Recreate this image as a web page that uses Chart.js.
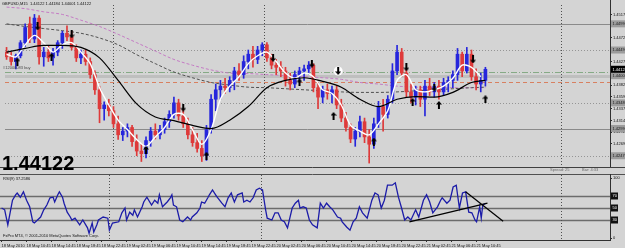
<!DOCTYPE html>
<html>
<head>
<meta charset="utf-8">
<title>GBPUSD,M15</title>
<script src="https://cdn.jsdelivr.net/npm/chart.js@4.4.1/dist/chart.umd.min.js"></script>
<style>
  html, body { margin: 0; padding: 0; background: #d4d4d4; }
  #wrap { position: relative; width: 625px; height: 248px; overflow: hidden; background: #d4d4d4; }
  #priceBox { position: absolute; left: 0; top: 0; width: 625px; height: 173px; }
  #rsiBox { position: absolute; left: 0; top: 173px; width: 625px; height: 75px; }
</style>
</head>
<body>
<div id="wrap">
  <div id="priceBox"><canvas id="priceChart"></canvas></div>
  <div id="rsiBox"><canvas id="rsiChart"></canvas></div>
</div>
<script>
// candles (each one stands for 3 M15 bars)
const candleOpen = [1.4445,1.4436,1.4427,1.4438,1.4463,1.4499,1.4470,1.4510,1.4436,1.4445,
  1.4434,1.4445,1.4463,1.4481,1.4474,1.4454,1.4434,1.4441,1.4427,1.4402,
  1.4373,1.4337,1.4344,1.4333,1.4308,1.4287,1.4294,1.4301,1.4274,1.4256,
  1.4251,1.4276,1.4294,1.4287,1.4297,1.4312,1.4326,1.4348,1.4323,1.4308,
  1.4287,1.4272,1.4261,1.4247,1.4297,1.4355,1.4373,1.4380,1.4377,1.4391,
  1.4409,1.4402,1.4427,1.4441,1.4431,1.4449,1.4459,1.4434,1.4420,1.4416,
  1.4409,1.4391,1.4384,1.4402,1.4409,1.4413,1.4420,1.4377,1.4359,1.4373,
  1.4366,1.4373,1.4344,1.4319,1.4301,1.4279,1.4294,1.4312,1.4283,1.4269,
  1.4308,1.4341,1.4326,1.4355,1.4409,1.4445,1.4405,1.4369,1.4359,1.4373,
  1.4355,1.4380,1.4369,1.4380,1.4369,1.4387,1.4391,1.4402,1.4441,1.4409,
  1.4441,1.4398,1.4384,1.4391];
const candleHigh = [1.4454,1.4445,1.4441,1.4467,1.4499,1.4512,1.4517,1.4515,1.4454,1.4456,
  1.4452,1.4467,1.4485,1.4495,1.4485,1.4459,1.4449,1.4450,1.4434,1.4409,
  1.4380,1.4350,1.4355,1.4341,1.4323,1.4301,1.4308,1.4305,1.4287,1.4269,
  1.4283,1.4301,1.4308,1.4305,1.4319,1.4333,1.4359,1.4355,1.4337,1.4319,
  1.4301,1.4290,1.4276,1.4305,1.4364,1.4384,1.4391,1.4395,1.4398,1.4416,
  1.4423,1.4438,1.4449,1.4456,1.4456,1.4463,1.4463,1.4441,1.4431,1.4427,
  1.4416,1.4405,1.4409,1.4416,1.4420,1.4427,1.4423,1.4387,1.4380,1.4384,
  1.4380,1.4380,1.4355,1.4330,1.4308,1.4301,1.4323,1.4319,1.4297,1.4319,
  1.4351,1.4355,1.4362,1.4423,1.4458,1.4452,1.4413,1.4384,1.4380,1.4380,
  1.4391,1.4395,1.4387,1.4391,1.4395,1.4398,1.4409,1.4452,1.4445,1.4454,
  1.4449,1.4413,1.4405,1.4416];
const candleLow = [1.4431,1.4420,1.4413,1.4434,1.4456,1.4463,1.4463,1.4422,1.4418,1.4427,
  1.4420,1.4438,1.4452,1.4467,1.4449,1.4427,1.4423,1.4420,1.4395,1.4364,
  1.4310,1.4315,1.4323,1.4301,1.4278,1.4276,1.4283,1.4265,1.4247,1.4236,
  1.4243,1.4265,1.4279,1.4279,1.4290,1.4301,1.4319,1.4315,1.4301,1.4279,
  1.4265,1.4254,1.4236,1.4238,1.4290,1.4333,1.4355,1.4366,1.4369,1.4373,
  1.4391,1.4395,1.4413,1.4416,1.4423,1.4438,1.4427,1.4413,1.4402,1.4398,
  1.4380,1.4373,1.4377,1.4387,1.4391,1.4402,1.4369,1.4337,1.4348,1.4355,
  1.4348,1.4337,1.4312,1.4294,1.4272,1.4265,1.4283,1.4272,1.4233,1.4261,
  1.4301,1.4294,1.4319,1.4348,1.4402,1.4398,1.4359,1.4348,1.4344,1.4341,
  1.4323,1.4362,1.4359,1.4355,1.4362,1.4369,1.4377,1.4391,1.4398,1.4405,
  1.4391,1.4373,1.4369,1.4380];
const candleClose = [1.4436,1.4427,1.4438,1.4463,1.4492,1.4470,1.4510,1.4436,1.4445,1.4434,
  1.4445,1.4463,1.4481,1.4474,1.4454,1.4434,1.4441,1.4427,1.4402,1.4373,
  1.4337,1.4344,1.4333,1.4308,1.4287,1.4294,1.4301,1.4274,1.4256,1.4251,
  1.4276,1.4294,1.4287,1.4297,1.4312,1.4326,1.4348,1.4323,1.4308,1.4287,
  1.4272,1.4261,1.4247,1.4297,1.4355,1.4373,1.4380,1.4377,1.4391,1.4409,
  1.4402,1.4427,1.4441,1.4431,1.4449,1.4459,1.4434,1.4420,1.4416,1.4409,
  1.4391,1.4384,1.4402,1.4409,1.4413,1.4420,1.4377,1.4359,1.4373,1.4366,
  1.4373,1.4344,1.4319,1.4301,1.4279,1.4294,1.4312,1.4283,1.4269,1.4308,
  1.4341,1.4326,1.4355,1.4409,1.4445,1.4405,1.4369,1.4359,1.4373,1.4355,
  1.4380,1.4369,1.4380,1.4369,1.4387,1.4391,1.4402,1.4441,1.4409,1.4441,
  1.4398,1.4384,1.4391,1.44122];

// moving averages, read every 12 bars
const maBars = [0,12,24,36,48,60,72,84,96,108,120,132,144,156,168,180,192,204,216,228,240,252,264,276,288,300,309];
const maBlack = [1.4445,1.4452,1.4458,1.4458,1.4454,1.4434,1.4391,1.4346,1.4321,1.4314,1.4305,1.4299,1.4315,1.4341,
  1.4377,1.4391,1.4396,1.4389,1.4378,1.4355,1.4341,1.4355,1.4360,1.4359,1.4368,1.4387,1.4391];
const maGray = [1.4499,1.4494,1.4490,1.4486,1.4481,1.4472,1.4459,1.4440,1.4423,1.4407,1.4396,1.4387,1.4382,1.4378,
  1.4377,1.4375,1.4373,1.4371,1.4369,1.4368,1.4368,1.4369,1.4371,1.4373,1.4375,1.4377,1.4378];
const maPink = [1.4531,1.4528,1.4522,1.4517,1.4506,1.4494,1.4479,1.4463,1.4447,1.4431,1.4420,1.4411,1.4405,1.4404,
  1.4402,1.4400,1.4398,1.4396,1.4393,1.4387,1.4384,1.4380,1.4378,1.4377,1.4377,1.4377,1.4377];
// fast white average, read every 6 bars
const maWhite = [1.4441,1.4436,1.4459,1.4477,1.4463,1.4445,1.4459,1.4463,1.4445,1.4423,
  1.4377,1.4344,1.4315,1.4297,1.4278,1.4265,1.4283,1.4301,1.4326,1.4326,
  1.4297,1.4269,1.4297,1.4355,1.4380,1.4398,1.4423,1.4438,1.4445,1.4427,
  1.4405,1.4395,1.4405,1.4398,1.4373,1.4366,1.4344,1.4305,1.4294,1.4287,
  1.4308,1.4333,1.4391,1.4402,1.4373,1.4369,1.4373,1.4380,1.4395,1.4420,
  1.4416,1.4398];

// fractal arrows
const downArrowBars = [20, 42, 114, 172, 197, 214, 258, 276, 301];
const downArrowPrices = [1.4494, 1.4479, 1.4339, 1.4434, 1.4423, 1.4409, 1.4416, 1.4377, 1.4431];
const upArrowBars = [7, 29, 90, 129, 189, 211, 237, 262, 279, 309];
const upArrowPrices = [1.4427, 1.4436, 1.4258, 1.4247, 1.4387, 1.4323, 1.4274, 1.4350, 1.4344, 1.4355];
const markBars = [214];
const markPrices = [1.4409];

// drawn lines
const hLinePrices = [1.4499, 1.4449, 1.4407, 1.4400, 1.4387, 1.4348, 1.4299, 1.4247];
const vLineBars = [69, 166, 358];
const priceTicks = [1.4517, 1.44945, 1.4472, 1.44495, 1.4427, 1.44045, 1.4382, 1.43595, 1.4337, 1.43145, 1.4292, 1.42695, 1.4247];

// RSI(9)
const rsiBars = [0,2,4,7,9,10,12,14,16,18,20,21,25,27,29,31,33,34,36,37,39,40,42,44,45,47,50,52,55,56,58,59,61,62,65,68,69,71,75,77,
  79,80,82,84,85,87,90,91,93,96,98,100,101,103,106,108,109,110,112,114,116,119,121,122,125,127,128,130,132,133,
  135,137,138,141,143,145,147,148,149,151,154,155,157,159,161,163,165,167,169,170,173,175,177,179,181,183,186,188,190,191,
  193,195,197,199,202,204,206,208,210,212,215,217,218,221,223,225,227,229,231,234,237,239,241,243,245,247,250,252,254,256,
  258,260,262,265,267,270,272,274,276,279,281,282,285,287,289,291,293,295,297,299,301,303,304,306,307,308,310];
const rsiValues = [50,47,22,63,72,75,68,77,63,52,27,25,35,47,55,67,68,60,72,77,68,58,43,35,30,33,22,30,17,8,25,10,22,30,35,33,13,25,27,42,
  50,30,43,38,47,35,52,60,68,55,63,58,72,52,60,67,72,55,52,30,27,35,30,35,42,50,60,58,67,72,
  80,72,68,58,52,67,75,67,60,72,75,60,63,60,67,80,83,80,47,33,30,42,42,30,27,17,50,58,63,50,
  52,50,30,22,17,58,50,58,52,47,35,33,27,18,13,27,33,52,42,33,63,75,72,50,63,88,88,92,68,50,
  30,35,30,47,35,63,72,60,42,52,63,67,58,63,85,88,50,75,77,43,42,30,27,52,33,55,58];
const trendUpBars = [261, 311];
const trendUpValues = [27, 58];
const trendDownBars = [297, 321];
const trendDownValues = [77, 28];
const rsiLevels = [70, 50, 30];
const rsiTicks = [0, 100];

const timeBars = [0,16,32,48,64,80,96,112,128,144,160,176,192,208,224,240,256,272,288,304];
const timeLabels = ["18 May 2010","18 May 10:45","18 May 14:45","18 May 18:45","18 May 22:45","19 May 02:45","19 May 06:45",
  "19 May 10:45","19 May 14:45","19 May 18:45","19 May 22:45","20 May 02:45","20 May 06:45","20 May 10:45","20 May 14:45",
  "20 May 18:45","20 May 22:45","21 May 02:45","21 May 06:45","21 May 10:45"];

const headerText = "GBPUSD,M15  1.44122 1.44184 1.44001 1.44122";
const orderText = "#12000083 buy";
const spreadText = "Spread: 25";
const barText = "Bar: 4:33";
const rsiText = "RSI(9) 37.2586";
const copyText = "FxPro MT4, \u00a9 2001-2010 MetaQuotes Software Corp.";

document.addEventListener("DOMContentLoaded", function () {
    const family = '"Liberation Sans", Arial, sans-serif';
    const barsPerCandle = 3;
    const xMin = -1, xMax = 389.4;
    const priceMax = 1.4535, priceMin = 1.42236;

    const hLineStyles = [
        { color: '#8a8a8a', width: 1, dash: [], box: true },
        { color: '#959595', width: 1, dash: [1, 2], box: true },
        { color: '#86aa86', width: 1, dash: [6, 2, 1, 2], box: false },
        { color: '#bfbfbf', width: 3, dash: [], box: true },
        { color: '#d88060', width: 1, dash: [4, 3], box: false },
        { color: '#959595', width: 1, dash: [1, 2], box: true },
        { color: '#8a8a8a', width: 1, dash: [], box: true },
        { color: '#959595', width: 1, dash: [1, 2], box: true }
    ];

    const pts = (xs, ys) => ys.map((v, k) => ({ x: xs[k], y: v }));

    function arrowImage(up) {
        const c = document.createElement('canvas');
        c.width = 6; c.height = 8;
        const g = c.getContext('2d');
        g.fillStyle = '#000';
        const shape = up
            ? [[3, 0], [6, 3.5], [4, 3.5], [4, 8], [2, 8], [2, 3.5], [0, 3.5]]
            : [[3, 8], [6, 4.5], [4, 4.5], [4, 0], [2, 0], [2, 4.5], [0, 4.5]];
        g.beginPath();
        shape.forEach(([px, py], k) => k ? g.lineTo(px, py) : g.moveTo(px, py));
        g.closePath();
        g.fill();
        return c;
    }

    function hLine(ctx, x0, x1, y, color, width, dash) {
        ctx.save();
        ctx.strokeStyle = color; ctx.lineWidth = width; ctx.setLineDash(dash);
        ctx.beginPath(); ctx.moveTo(x0, y); ctx.lineTo(x1, y); ctx.stroke();
        ctx.restore();
    }

    function vLine(ctx, x, y0, y1, color, width, dash) {
        ctx.save();
        ctx.strokeStyle = color; ctx.lineWidth = width; ctx.setLineDash(dash);
        ctx.beginPath(); ctx.moveTo(x, y0); ctx.lineTo(x, y1); ctx.stroke();
        ctx.restore();
    }

    function axisBox(ctx, x, y, w, text, fill, textColor) {
        ctx.save();
        ctx.fillStyle = fill;
        ctx.fillRect(x, y - 3.5, w, 7);
        ctx.fillStyle = textColor;
        ctx.font = '4px ' + family;
        ctx.textBaseline = 'middle';
        ctx.fillText(text, x + 1.5, y + 0.3);
        ctx.restore();
    }

    // lines, labels and frame of the price window
    const priceDecor = {
        id: 'priceDecor',
        beforeDatasetsDraw(chart) {
            const { ctx, chartArea: a, scales: { x, y } } = chart;
            hLinePrices.forEach((p, k) => {
                const s = hLineStyles[k];
                hLine(ctx, a.left, a.right, Math.round(y.getPixelForValue(p)) + 0.5, s.color, s.width, s.dash);
            });
            vLineBars.forEach(b => vLine(ctx, Math.round(x.getPixelForValue(b)) + 0.5, a.top, a.bottom, '#505050', 1, [1, 2]));
        },
        afterDraw(chart) {
            const { ctx, chartArea: a, scales: { y } } = chart;
            vLine(ctx, a.right + 0.5, 0, a.bottom, '#303030', 1, []);
            hLine(ctx, 0, 625, a.bottom - 0.5, '#404040', 1, []);

            hLinePrices.forEach((p, k) => {
                if (hLineStyles[k].box) axisBox(ctx, a.right + 1, y.getPixelForValue(p), 14, p.toFixed(5), '#9c9c9c', '#1a1a1a');
            });
            const last = candleClose[candleClose.length - 1];
            axisBox(ctx, a.right + 1, y.getPixelForValue(last), 14, last.toFixed(5), '#000', '#fff');

            ctx.save();
            ctx.textBaseline = 'middle';
            ctx.font = '4px ' + family;
            ctx.fillStyle = '#101010';
            ctx.fillText(headerText, 2, 4);
            ctx.fillStyle = '#4a4a4a';
            ctx.fillText(orderText, 3, 68);
            ctx.fillStyle = '#6a6a6a';
            ctx.fillText(spreadText, 550, 170);
            ctx.fillText(barText, 582, 170);
            ctx.font = 'bold 20px ' + family;
            ctx.fillStyle = '#000';
            ctx.textBaseline = 'alphabetic';
            ctx.fillText(last.toFixed(5), 2, 170);
            ctx.restore();
        }
    };

    // levels, labels and frame of the RSI window
    const rsiDecor = {
        id: 'rsiDecor',
        beforeDatasetsDraw(chart) {
            const { ctx, chartArea: a, scales: { x, y } } = chart;
            rsiLevels.forEach(v => hLine(ctx, a.left, a.right, Math.round(y.getPixelForValue(v)) + 0.5, '#6c6c6c', 1.3, []));
            vLineBars.forEach(b => vLine(ctx, Math.round(x.getPixelForValue(b)) + 0.5, a.top, a.bottom, '#505050', 1, [1, 2]));
        },
        afterDraw(chart) {
            const { ctx, chartArea: a, scales: { y } } = chart;
            hLine(ctx, 0, 625, 1.5, '#505050', 1, []);
            hLine(ctx, 0, a.right + 1, a.bottom + 0.5, '#303030', 1, []);
            vLine(ctx, a.right + 0.5, 1, a.bottom + 1, '#303030', 1, []);
            rsiLevels.forEach(v => axisBox(ctx, a.right + 1, y.getPixelForValue(v), 7, String(v), '#111', '#fff'));

            ctx.save();
            ctx.textBaseline = 'middle';
            ctx.font = '4px ' + family;
            ctx.fillStyle = '#101010';
            ctx.fillText(rsiText, 3, 6);
            ctx.fillText(copyText, 3, 63);
            ctx.restore();
        }
    };

    const candleX = candleOpen.map((v, i) => i * barsPerCandle);
    const candleColors = candleClose.map((c, i) => c >= candleOpen[i] ? '#2626dc' : '#de3a3a');
    const whiteBars = maWhite.map((v, k) => k * 2 * barsPerCandle);

    const noPad = s => { s.paddingTop = 0; s.paddingBottom = 0; s.paddingLeft = 0; s.paddingRight = 0; };

    new Chart(document.getElementById('priceChart'), {
        type: 'bar',
        data: {
            datasets: [
                { type: 'line', data: pts(downArrowBars, downArrowPrices), showLine: false, pointStyle: arrowImage(false), order: 0 },
                { type: 'line', data: pts(upArrowBars, upArrowPrices), showLine: false, pointStyle: arrowImage(true), order: 0 },
                { type: 'line', data: pts(markBars, markPrices), showLine: false, pointStyle: 'circle', pointRadius: 4.5,
                  pointBackgroundColor: '#ffffff', pointBorderWidth: 0, order: 1 },
                { type: 'line', data: pts(maBars, maBlack), borderColor: '#000000', borderWidth: 1.2, pointRadius: 0,
                  cubicInterpolationMode: 'monotone', order: 2 },
                { type: 'line', data: pts(whiteBars, maWhite), borderColor: '#ffffff', borderWidth: 1.4, pointRadius: 0,
                  tension: 0.3, order: 3 },
                { type: 'bar', data: candleClose.map((c, i) => ({ x: candleX[i], y: [candleOpen[i], c] })),
                  backgroundColor: candleColors, barThickness: 3, grouped: false, borderWidth: 0, order: 4 },
                { type: 'bar', data: candleHigh.map((h, i) => ({ x: candleX[i], y: [candleLow[i], h] })),
                  backgroundColor: candleColors, barThickness: 1, grouped: false, borderWidth: 0, order: 5 },
                { type: 'line', data: pts(maBars, maGray), borderColor: '#505050', borderWidth: 1, borderDash: [3, 2],
                  pointRadius: 0, cubicInterpolationMode: 'monotone', order: 6 },
                { type: 'line', data: pts(maBars, maPink), borderColor: '#c47ac4', borderWidth: 1, borderDash: [3, 2],
                  pointRadius: 0, cubicInterpolationMode: 'monotone', order: 7 }
            ]
        },
        options: {
            animation: false,
            responsive: true,
            maintainAspectRatio: false,
            devicePixelRatio: 1,
            layout: { padding: 0 },
            plugins: { legend: { display: false }, tooltip: { enabled: false } },
            scales: {
                x: { type: 'linear', min: xMin, max: xMax, offset: false, display: false },
                y: {
                    position: 'right', min: priceMin, max: priceMax, beginAtZero: false,
                    afterBuildTicks: s => { s.ticks = priceTicks.map(v => ({ value: v })); },
                    afterFit: s => { s.width = 15; noPad(s); },
                    grid: { display: true, drawOnChartArea: false, drawTicks: true, tickLength: 2, color: '#303030' },
                    border: { display: false },
                    ticks: { font: { size: 4, family: family }, color: '#101010', padding: 1,
                             callback: v => Number(v).toFixed(5) }
                }
            }
        },
        plugins: [priceDecor]
    });

    new Chart(document.getElementById('rsiChart'), {
        type: 'line',
        data: {
            datasets: [
                { data: pts(trendUpBars, trendUpValues), borderColor: '#000000', borderWidth: 1.2, pointRadius: 0 },
                { data: pts(trendDownBars, trendDownValues), borderColor: '#000000', borderWidth: 1.2, pointRadius: 0 },
                { data: pts(rsiBars, rsiValues), borderColor: '#1c1ca8', borderWidth: 1.3, pointRadius: 0, tension: 0 }
            ]
        },
        options: {
            animation: false,
            responsive: true,
            maintainAspectRatio: false,
            devicePixelRatio: 1,
            layout: { padding: { top: 2, left: 0, right: 0, bottom: 0 } },
            plugins: { legend: { display: false }, tooltip: { enabled: false } },
            scales: {
                x: {
                    type: 'linear', min: xMin, max: xMax, offset: false,
                    afterBuildTicks: s => { s.ticks = timeBars.map(v => ({ value: v })); },
                    afterFit: s => { s.height = 8; noPad(s); },
                    grid: { drawOnChartArea: false, drawTicks: true, tickLength: 2, color: '#303030' },
                    border: { display: false },
                    ticks: { autoSkip: false, maxRotation: 0, minRotation: 0, align: 'start', padding: 1,
                             font: { size: 4, family: family }, color: '#101010',
                             callback: (v, i) => timeLabels[i] }
                },
                y: {
                    position: 'right', min: -3.33, max: 105,
                    afterBuildTicks: s => { s.ticks = rsiTicks.map(v => ({ value: v })); },
                    afterFit: s => { s.width = 15; noPad(s); },
                    grid: { display: true, drawOnChartArea: false, drawTicks: true, tickLength: 2, color: '#303030' },
                    border: { display: false },
                    ticks: { font: { size: 4, family: family }, color: '#101010', padding: 1 }
                }
            }
        },
        plugins: [rsiDecor]
    });
});
</script>
</body>
</html>
